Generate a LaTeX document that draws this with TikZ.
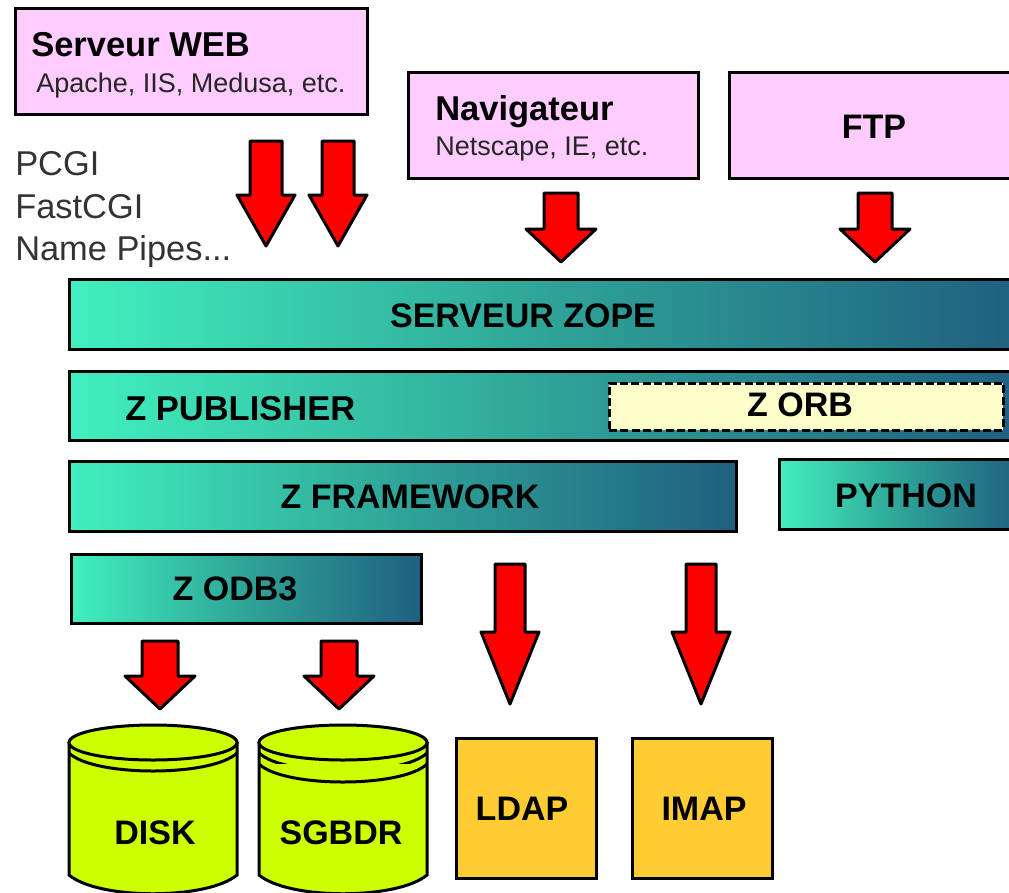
\documentclass[tikz,border=0pt]{standalone}
\usepackage{fontspec}
\setmainfont{Liberation Sans}
\newcommand{\fpx}[1]{\fontsize{\fpeval{#1*0.75}pt}{\fpeval{#1*0.9}pt}\selectfont}
\newcommand{\blockarrow}[7]{% name, cx, top, neck y, tip y, half shaft, half head
  \coordinate (#1) at (#2,#3);
  \draw[redarrow] (#2-#6,#3) -- (#2+#6,#3) -- (#2+#6,#4) -- (#2+#7,#4) -- (#2,#5) -- (#2-#7,#4) -- (#2-#6,#4) -- cycle;}
\newcommand{\boxat}[6]{% style, name, x0, y0, x1, y1
  \node[#1, outer sep=0pt, anchor=north west, minimum width={(#5-#3)*0.75pt}, minimum height={(#6-#4)*0.75pt}] (#2) at (#3,#4) {};}
\newcommand{\cyl}[4]{% name, x0, x1, extra band y offsets list
  \coordinate (#1) at (#2,725);
  \pgfmathsetmacro{\xm}{(#2+#3)/2}
  \pgfmathsetmacro{\rx}{(#3-#2)/2}
  \draw[cylstyle] (#2,743) -- (#2,875) .. controls (#2+30,900) and (#3-30,900) .. (#3,875) -- (#3,743) -- cycle;
  \foreach \dy in {#4} {
    \draw[cylstyle] (#2,743+\dy) .. controls (#2+25,767+\dy) and (#3-25,767+\dy) .. (#3,743+\dy);
  }
  \draw[cylstyle] (\xm,742.5) ellipse [x radius=\rx, y radius=17.5];
}
\tikzset{
  pinkbox/.style={draw=black, line width=2.25pt, fill=pinkfill, inner sep=0pt, rectangle},
  barbox/.style={draw=black, line width=2.25pt, inner sep=0pt, rectangle, shade, shading=barshade},
  orbbox/.style={draw=black, line width=2.25pt, dash pattern=on 6pt off 2.5pt, fill=orbfill, inner sep=0pt, rectangle},
  orangebox/.style={draw=black, line width=2.25pt, fill=orangefill, inner sep=0pt, rectangle},
  redarrow/.style={draw=black, line width=2.25pt, fill=red, line join=round},
  cylstyle/.style={draw=black, line width=2.25pt, fill=limefill},
  bold/.style={font=\fpx{34}\bfseries, text=black, inner sep=0pt, anchor=base},
  boldw/.style={font=\fpx{34.5}\bfseries, text=black, inner sep=0pt, anchor=base west},
  plainw/.style={font=\fpx{34.4}, text=black!80, inner sep=0pt, anchor=base west},
  smallw/.style={font=\fpx{27}, text=black!85, inner sep=0pt, anchor=base west},
}
\definecolor{pinkfill}{HTML}{FFCCFF}
\definecolor{orbfill}{HTML}{FFFFCC}
\definecolor{orangefill}{HTML}{FFCC33}
\definecolor{limefill}{HTML}{CCFF00}
\definecolor{barL}{HTML}{40F0BE}
\definecolor{barM}{HTML}{2FA498}
\definecolor{barR}{HTML}{1F6080}
\pgfdeclarehorizontalshading{barshade}{100bp}{color(0bp)=(barL); color(25bp)=(barL); color(50bp)=(barM); color(75bp)=(barR); color(100bp)=(barR)}
\begin{document}
\begin{tikzpicture}[x=0.75pt,y=-0.75pt]
\useasboundingbox (0,0) rectangle (1009,892);
\clip (0,0) rectangle (1009,892);
% top boxes
\boxat{pinkbox}{web}{15}{9}{367}{114}
\boxat{pinkbox}{nav}{408}{73}{698}{178}
\boxat{pinkbox}{ftp}{729}{73}{1020}{178}
\node[boldw] (webt) at (31,56) {Serveur WEB};
\node[smallw] (webs) at (36,92) {Apache, IIS, Medusa, etc.};
\node[boldw] (navt) at (435,120) {Navigateur};
\node[smallw] (navs) at (435,155) {Netscape, IE, etc.};
\node[bold] (ftpt) at (874,138) {FTP};
% left labels
\node[plainw] (pcgi) at (15,175) {PCGI};
\node[plainw] (fast) at (15,218) {FastCGI};
\node[plainw] (pipes) at (15,260) {Name Pipes...};
% arrows
\blockarrow{a1}{266}{141}{195}{246}{16}{29}
\blockarrow{a2}{338}{141}{195}{246}{16}{29}
\blockarrow{a3}{561}{193}{229}{262}{17}{35}
\blockarrow{a4}{875}{193}{229}{262}{17}{35}
\blockarrow{a5}{160}{641}{676}{709}{18}{35}
\blockarrow{a6}{339}{641}{676}{709}{18}{35}
\blockarrow{a7}{510}{564}{632}{704}{15}{29}
\blockarrow{a8}{701}{564}{632}{704}{15}{29}
% bars
\boxat{barbox}{zope}{69}{279}{1020}{349}
\boxat{barbox}{pub}{69}{371}{1020}{440}
\boxat{barbox}{frame}{69}{461}{736}{531}
\boxat{barbox}{python}{779}{459}{1020}{529}
\boxat{barbox}{odb}{71}{554}{421}{623}
\boxat{orbbox}{orb}{609}{383}{1003}{430}
\node[bold] (zopet) at (523,327) {SERVEUR ZOPE};
\node[boldw] (pubt) at (125,420) {Z PUBLISHER};
\node[bold] (orbt) at (800,416) {Z ORB};
\node[bold] (framet) at (410,508) {Z FRAMEWORK};
\node[bold] (pyt) at (906,507) {PYTHON};
\node[bold] (odbt) at (235,600) {Z ODB3};
% stores
\cyl{disk}{69}{237}{10}
\cyl{sgbdr}{259}{427}{10,21}
\node[bold] (diskt) at (155,844) {DISK};
\node[bold] (sgbdrt) at (341,844) {SGBDR};
\boxat{orangebox}{ldap}{456}{738}{596}{878}
\boxat{orangebox}{imap}{632}{738}{772}{878}
\node[bold] (ldapt) at (522,820) {LDAP};
\node[bold] (imapt) at (704,820) {IMAP};
\end{tikzpicture}
\end{document}
